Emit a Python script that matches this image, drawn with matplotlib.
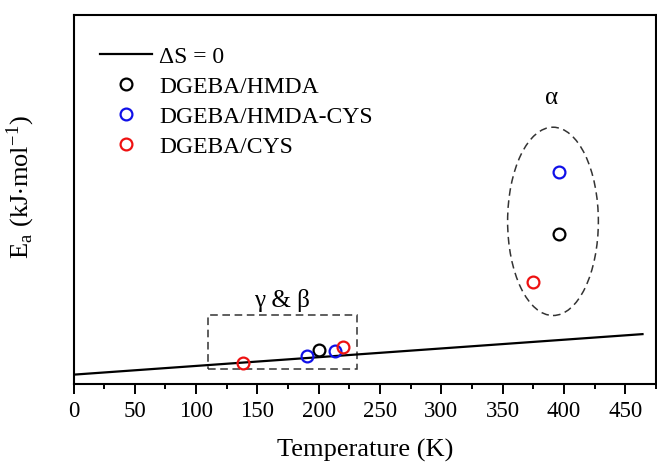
import matplotlib
matplotlib.use("Agg")
import matplotlib.pyplot as plt
from matplotlib.patches import Ellipse, Rectangle
from matplotlib.ticker import MultipleLocator

plt.rcParams['font.family'] = ['Liberation Serif', 'DejaVu Serif']
plt.rcParams['mathtext.fontset'] = 'stix'

# Data (Ea in arbitrary kJ/mol units)
line_T = [0, 464]
line_Ea = [24, 134]

hmda_T = [200, 396]
hmda_Ea = [91, 406]

hmda_cys_T = [190, 213, 396]
hmda_cys_Ea = [75, 87, 573]

cys_T = [138, 220, 375]
cys_Ea = [56, 98, 276]

x_ticks = [0, 50, 100, 150, 200, 250, 300, 350, 400, 450]

fig = plt.figure(figsize=(6.57, 4.64), dpi=100)
W, H = 657, 464
ax = fig.add_axes([73.5 / W, (H - 384.5) / H, (656 - 73.5) / W, (384.5 - 16) / H])

ax.plot(line_T, line_Ea, color='black', lw=1.6, label='ΔS = 0')
mk = dict(marker='o', ls='none', mfc='none', ms=8.5, mew=1.6)
ax.plot(hmda_T, hmda_Ea, color='black', label='DGEBA/HMDA', **mk)
ax.plot(hmda_cys_T, hmda_cys_Ea, color='#1010e8', label='DGEBA/HMDA-CYS', **mk)
ax.plot(cys_T, cys_Ea, color='#ee1111', label='DGEBA/CYS', **mk)

ax.add_patch(Rectangle((110, 39), 121, 147, fill=False, ls=(0, (5, 3)), lw=1.1, ec='#333333'))
ax.add_patch(Ellipse((391, 440), 74, 511, fill=False, ls=(0, (5, 3)), lw=1.1, ec='#333333'))
ax.text(170, 229, 'γ & β', ha='center', va='center', fontsize=18)
ax.text(390, 778, 'α', ha='center', va='center', fontsize=18)

ax.set_xlim(0, 475)
ax.set_ylim(0, 1000)
ax.set_xticks(x_ticks)
ax.xaxis.set_minor_locator(MultipleLocator(25))
ax.set_yticks([])
ax.tick_params(axis='x', which='major', direction='out', length=7, width=1.4, labelsize=16.5, pad=5)
ax.tick_params(axis='x', which='minor', direction='out', length=3.6, width=1.4)
for s in ax.spines.values():
    s.set_linewidth(1.5)

ax.set_xlabel('Temperature (K)', fontsize=19, labelpad=12)
ax.set_ylabel(r'E$_\mathregular{a}$ (kJ$\cdot$mol$^\mathregular{-1}$)', fontsize=19, labelpad=12)
ax.yaxis.set_label_coords(-0.062, 0.535)

leg = ax.legend(loc='upper left', bbox_to_anchor=(0.03, 0.943), frameon=False, fontsize=17,
                handlelength=2.2, handletextpad=0.3, labelspacing=0.36, borderaxespad=0)

fig.savefig('out.png', dpi=100)
